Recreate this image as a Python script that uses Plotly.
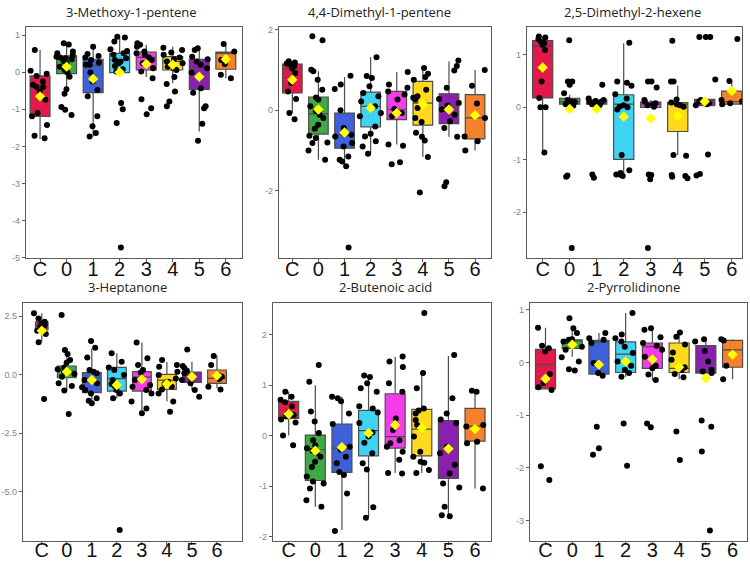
import plotly.graph_objects as go

GROUPS = ['C', '0', '1', '2', '3', '4', '5', '6']
COLORS = ['#E3194B', '#3DAA48', '#3E60D8', '#3ED3F2', '#F33CEA', '#FFD91C', '#8B1FAF', '#F5822B']
TITLES = ['3-Methoxy-1-pentene', '4,4-Dimethyl-1-pentene', '2,5-Dimethyl-2-hexene',
          '3-Heptanone', '2-Butenoic acid', '2-Pyrrolidinone']

# ---------------- Panel 1: 3-Methoxy-1-pentene ----------------
P1_Q1 = [-1.19, -0.04, -0.55, -0.01, 0.06, 0.06, -0.46, 0.08]
P1_MED = [-0.41, 0.40, 0.18, 0.33, 0.40, 0.29, 0.15, 0.51]
P1_Q3 = [-0.10, 0.44, 0.35, 0.51, 0.54, 0.42, 0.35, 0.54]
P1_LO = [-1.80, -0.57, -1.73, -0.01, -0.13, -0.30, -1.60, -0.16]
P1_HI = [0.60, 0.78, 0.69, 0.94, 0.74, 0.69, 0.62, 0.74]
P1_MEAN = [-0.65, 0.15, -0.18, 0.00, 0.22, 0.20, -0.12, 0.35]
P1_PTS = [
    [0.60, 0.04, -0.04, -0.10, -0.25, -0.34, -0.40, -0.40, -0.52, -0.74, -1.10, -1.19, -1.42, -1.71, -1.78],
    [0.78, 0.75, 0.56, 0.51, 0.47, 0.42, 0.40, 0.38, 0.35, 0.30, 0.24, 0.15, 0.06, -0.01, -0.12, -0.46, -0.58, -0.94, -1.01, -1.15],
    [0.69, 0.49, 0.44, 0.40, 0.33, 0.26, 0.20, 0.20, -0.01, -0.25, -0.48, -0.65, -1.19, -1.46, -1.64, -1.73],
    [0.96, 0.94, 0.83, 0.62, 0.57, 0.51, 0.47, 0.38, 0.33, 0.29, 0.24, 0.17, 0.08, 0.02, -0.83, -1.00, -1.37, -4.73],
    [0.78, 0.74, 0.69, 0.56, 0.51, 0.47, 0.40, 0.33, 0.24, 0.11, 0.02, -0.16, -0.73, -0.97, -1.13],
    [0.66, 0.60, 0.53, 0.47, 0.40, 0.35, 0.29, 0.24, 0.20, 0.15, 0.11, 0.06, -0.13, -0.32, -0.52, -0.79, -0.92],
    [0.65, 0.60, 0.42, 0.35, 0.29, 0.20, 0.11, -0.01, -0.43, -0.55, -0.92, -0.97, -1.39, -1.85],
    [0.76, 0.56, 0.33, 0.22, -0.07, -0.16],
]

# ---------------- Panel 2: 4,4-Dimethyl-1-pentene ----------------
P2_Q1 = [0.43, -0.59, -0.94, -0.41, -0.23, -0.37, -0.33, -0.71]
P2_MED = [1.04, -0.09, -0.61, 0.10, 0.02, 0.18, 0.10, -0.19]
P2_Q3 = [1.15, 0.33, -0.07, 0.45, 0.47, 0.72, 0.41, 0.39]
P2_LO = [-0.07, -1.23, -1.39, -1.08, -0.85, -1.16, -0.66, -1.00]
P2_HI = [1.22, 0.97, 0.83, 1.32, 0.95, 1.05, 1.22, 1.00]
P2_MEAN = [0.76, 0.02, -0.55, 0.06, -0.07, 0.15, 0.02, -0.12]
P2_PTS = [
    [1.22, 1.19, 1.16, 1.14, 1.10, 1.04, 0.93, 0.68, 0.47, 0.28, -0.07, -0.22],
    [1.84, 1.74, 1.01, 0.97, 0.76, 0.51, 0.32, 0.27, 0.10, -0.02, -0.11, -0.19, -0.36, -0.46, -0.63, -0.69, -0.80, -0.81, -1.00, -1.23],
    [0.86, 0.64, 0.53, 0.00, -0.44, -0.61, -0.65, -0.81, -0.90, -1.15, -1.23, -1.27, -1.39, -3.41],
    [1.32, 0.85, 0.80, 0.60, 0.43, 0.35, 0.22, 0.10, -0.07, -0.15, -0.40, -0.58, -0.65, -0.77, -0.90, -1.08],
    [0.95, 0.64, 0.56, 0.47, 0.39, 0.27, 0.03, -0.07, -0.15, -0.85, -0.88, -1.29, -1.34],
    [1.05, 0.91, 0.83, 0.76, 0.51, 0.35, 0.31, 0.27, 0.06, -0.19, -0.29, -0.56, -0.66, -0.75, -1.16, -2.04],
    [1.24, 1.10, 0.99, 0.56, 0.28, 0.18, 0.12, 0.02, -0.11, -0.27, -0.44, -0.66, -1.79, -1.89],
    [1.00, 0.61, 0.17, -0.19, -0.65, -0.77, -1.00],
]

# ---------------- Panel 3: 2,5-Dimethyl-2-hexene ----------------
P3_Q1 = [0.18, 0.06, 0.06, -0.99, 0.00, -0.46, 0.03, 0.06]
P3_MED = [1.17, 0.11, 0.11, 0.06, 0.06, 0.06, 0.09, 0.11]
P3_Q3 = [1.27, 0.17, 0.14, 0.24, 0.10, 0.09, 0.15, 0.31]
P3_LO = [-0.86, 0.03, 0.04, -1.26, 0.00, -0.91, 0.03, 0.06]
P3_HI = [1.35, 0.24, 0.17, 1.22, 0.14, 0.41, 0.15, 0.50]
P3_MEAN = [0.76, -0.03, -0.03, -0.18, -0.21, -0.17, 0.11, 0.31]
P3_PTS = [
    [1.35, 1.33, 1.30, 1.25, 1.22, 1.19, 1.09, 0.49, 0.18, 0.00, 0.00, -0.86],
    [1.28, 0.49, 0.49, 0.43, 0.27, 0.14, 0.11, 0.09, 0.06, 0.04, 0.03, 0.10, 0.08, -1.32, -1.30, -2.68],
    [0.43, 0.17, 0.14, 0.12, 0.11, 0.09, 0.08, 0.06, 0.04, 0.10, 0.07, -1.34, -1.28],
    [1.23, 0.49, 0.47, 0.41, 0.25, 0.17, 0.04, 0.01, 0.00, -0.04, -0.91, -1.20, -1.25, -1.29, -1.31, -1.28],
    [0.49, 0.49, 0.38, 0.14, 0.11, 0.08, 0.06, 0.04, 0.01, -1.29, -1.37, -1.28, -2.68],
    [1.27, 0.49, 0.49, 0.15, 0.09, 0.06, 0.04, 0.01, -0.91, -0.92, -1.29, -1.32, -1.35, -1.31],
    [1.34, 1.34, 1.34, 0.53, 0.14, 0.11, 0.09, 0.06, 0.04, 0.08, -0.90, -1.30, -1.27],
    [1.30, 0.50, 0.14, 0.11, 0.08, 0.06],
]

# ---------------- Panel 4: 3-Heptanone ----------------
P4_Q1 = [1.91, -0.13, -0.77, -0.70, -0.70, -0.63, -0.33, -0.37]
P4_MED = [2.09, 0.16, -0.13, -0.17, -0.09, -0.23, -0.09, -0.16]
P4_Q3 = [2.26, 0.37, 0.09, 0.31, 0.13, 0.01, 0.11, 0.20]
P4_LO = [1.41, -0.65, -1.29, -1.01, -1.62, -1.15, -0.65, -0.58]
P4_HI = [2.62, 0.84, 1.12, 0.91, 1.37, 0.55, 0.55, 0.80]
P4_MEAN = [1.88, 0.13, -0.23, -0.44, -0.20, -0.40, -0.09, -0.04]
P4_PTS = [
    [2.62, 2.40, 2.26, 2.19, 2.12, 2.05, 1.88, 1.74, 1.38, -1.04],
    [2.55, 1.05, 0.88, 0.63, 0.51, 0.31, 0.23, 0.13, 0.03, -0.09, -0.37, -0.48, -0.68, -1.68],
    [1.44, 1.15, 0.73, 0.20, 0.13, 0.06, -0.23, -0.37, -0.54, -0.65, -0.80, -1.01, -1.11, -1.22],
    [0.91, 0.55, 0.31, 0.20, -0.01, -0.23, -0.40, -0.48, -0.65, -0.80, -1.01, -6.63],
    [1.37, 0.70, 0.41, 0.20, 0.09, -0.23, -0.44, -0.51, -0.65, -0.80, -1.15, -1.44, -1.65],
    [0.63, 0.41, 0.34, 0.13, -0.01, -0.16, -0.30, -0.40, -0.51, -0.63, -0.80, -1.15, -1.58],
    [1.08, 0.37, 0.27, 0.17, 0.06, -0.09, -0.23, -0.37, -0.65, -0.94],
    [0.80, 0.41, -0.01, -0.09, -0.18, -0.51, -0.63],
]

# ---------------- Panel 5: 2-Butenoic acid ----------------
P5_Q1 = [0.34, -0.89, -0.73, -0.40, -0.25, -0.40, -0.85, -0.11]
P5_MED = [0.41, -0.28, -0.25, 0.10, -0.02, 0.13, -0.21, 0.19]
P5_Q3 = [0.68, 0.01, 0.23, 0.50, 0.83, 0.52, 0.30, 0.54]
P5_LO = [0.00, -1.41, -1.87, -1.62, -0.74, -0.74, -1.60, -1.05]
P5_HI = [0.87, 1.00, 0.77, 1.19, 1.56, 1.24, 1.58, 0.89]
P5_MEAN = [0.43, -0.30, -0.23, 0.05, 0.21, 0.15, -0.26, 0.13]
P5_PTS = [
    [0.87, 0.77, 0.71, 0.66, 0.58, 0.46, 0.41, 0.38, 0.32, 0.26, 0.00, -0.19],
    [1.40, 1.07, 0.48, 0.28, 0.05, -0.09, -0.19, -0.25, -0.30, -0.35, -0.42, -0.52, -0.62, -0.81, -0.91, -0.95, -1.05, -1.28, -1.41],
    [0.77, 0.74, 0.68, 0.44, 0.23, -0.22, -0.28, -0.42, -0.55, -0.72, -0.78, -1.15, -1.89],
    [1.19, 1.16, 1.04, 0.94, 0.87, 0.58, 0.54, 0.46, 0.25, 0.06, -0.02, -0.14, -0.35, -0.55, -0.67, -1.42, -1.63],
    [1.57, 1.47, 1.36, 1.04, 0.87, 0.34, 0.11, -0.09, -0.15, -0.22, -0.32, -0.48, -0.74, -0.75],
    [2.43, 1.24, 0.94, 0.54, 0.50, 0.44, 0.31, 0.21, -0.02, -0.32, -0.42, -0.52, -0.54, -0.68, -0.74],
    [1.60, 0.74, 0.44, 0.32, 0.25, -0.22, -0.35, -0.58, -0.75, -0.95, -1.03, -1.41, -1.58, -1.60],
    [0.89, 0.87, 0.21, 0.18, -0.12, -0.15, -1.05],
]

# ---------------- Panel 6: 2-Pyrrolidinone ----------------
P6_Q1 = [-0.50, 0.27, -0.22, -0.19, -0.11, -0.19, -0.20, -0.09]
P6_MED = [-0.04, 0.42, 0.39, 0.16, 0.30, -0.11, -0.14, 0.24]
P6_Q3 = [0.25, 0.43, 0.42, 0.39, 0.37, 0.37, 0.32, 0.42]
P6_LO = [-0.50, 0.11, -0.22, -0.27, -0.34, -0.32, -0.20, -0.32]
P6_HI = [0.66, 0.65, 0.56, 0.94, 0.65, 0.59, 0.46, 0.44]
P6_MEAN = [-0.31, 0.34, -0.04, 0.02, 0.06, -0.09, -0.30, 0.15]
P6_PTS = [
    [0.66, 0.32, 0.27, 0.21, -0.22, -0.39, -0.47, -0.52, -1.97, -2.23],
    [0.84, 0.65, 0.56, 0.44, 0.43, 0.40, 0.37, 0.30, 0.24, 0.10, 0.02, -0.13, -0.15],
    [0.56, 0.46, 0.43, 0.37, -0.01, -0.20, -0.25, -1.22, -1.63, -1.75],
    [0.94, 0.53, 0.46, 0.40, 0.30, 0.18, 0.02, -0.06, -0.14, -0.20, -0.27, -1.16, -1.96],
    [0.65, 0.62, 0.48, 0.37, 0.32, 0.24, 0.11, -0.06, -0.11, -0.33, -0.23, -1.16, -1.23],
    [0.57, 0.49, 0.34, 0.19, 0.05, -0.09, -0.14, -0.22, -0.28, -1.31, -1.85],
    [0.44, 0.40, 0.22, 0.02, -0.14, -0.17, -0.20, -1.10, -1.22, -1.69, -3.19],
    [0.44, 0.42, -0.06, -0.32],
]

Y_TICKVALS = [[1, 0, -1, -2, -3, -4, -5], [2, 0, -2], [1, 0, -1, -2],
              [2.5, 0, -2.5, -5], [2, 1, 0, -1, -2], [1, 0, -1, -2, -3]]
Y_TICKTEXT = [['1', '0', '-1', '-2', '-3', '-4', '-5'], ['2', '0', '-2'], ['1', '0', '-1', '-2'],
              ['2.5', '0.0', '-2.5', '-5.0'], ['2', '1', '0', '-1', '-2'], ['1', '0', '-1', '-2', '-3']]

PANELS = [
    (P1_Q1, P1_MED, P1_Q3, P1_LO, P1_HI, P1_MEAN, P1_PTS),
    (P2_Q1, P2_MED, P2_Q3, P2_LO, P2_HI, P2_MEAN, P2_PTS),
    (P3_Q1, P3_MED, P3_Q3, P3_LO, P3_HI, P3_MEAN, P3_PTS),
    (P4_Q1, P4_MED, P4_Q3, P4_LO, P4_HI, P4_MEAN, P4_PTS),
    (P5_Q1, P5_MED, P5_Q3, P5_LO, P5_HI, P5_MEAN, P5_PTS),
    (P6_Q1, P6_MED, P6_Q3, P6_LO, P6_HI, P6_MEAN, P6_PTS),
]

# layout geometry (pixels in a 750x561 page)
W, H = 750, 561
PX_X = [(26, 242), (279, 491), (527, 742), (23, 242), (273, 491), (530, 747)]
PX_Y = [(27, 258), (27, 258), (27, 258), (303, 541), (303, 541), (303, 541)]
X_RANGES = [[-0.53, 7.61], [-0.51, 7.61], [-0.58, 7.38], [-0.75, 8.0], [-0.59, 7.6], [-0.58, 7.54]]
Y_RANGES = [[-5.01, 1.22], [-3.67, 2.07], [-2.87, 1.53], [-7.1, 3.06], [-2.09, 2.63], [-3.39, 1.13]]
C_WIDTH = [0.75, 0.75, 0.75, 0.5, 0.75, 0.75]
TITLE_X = [131, 379, 632, 127, 385, 633]
TITLE_Y = [12, 12, 12, 287, 287, 287]
X_LABEL_SHIFT = [-10, -10, -10, -12, -12, -12]

fig = go.Figure()
layout = dict(
    width=W, height=H, margin=dict(l=0, r=0, t=0, b=0, autoexpand=False),
    paper_bgcolor='white', plot_bgcolor='white', showlegend=False,
    boxmode='overlay', annotations=[],
)

for i, (q1, med, q3, lo, hi, mean, pts) in enumerate(PANELS):
    k = '' if i == 0 else str(i + 1)
    xa, ya = 'x' + k, 'y' + k
    for g in range(len(GROUPS)):
        fig.add_trace(go.Box(
            x=[GROUPS[g]], q1=[q1[g]], median=[med[g]], q3=[q3[g]],
            lowerfence=[lo[g]], upperfence=[hi[g]],
            fillcolor=COLORS[g], line=dict(color='#4d4d4d', width=1.2),
            width=C_WIDTH[i] if g == 0 else 0.75, whiskerwidth=0,
            boxpoints=False, xaxis=xa, yaxis=ya, hoverinfo='skip'))
    xs, ys = [], []
    for g, vals in enumerate(pts):
        xs += [GROUPS[g]] * len(vals)
        ys += vals
    fig.add_trace(go.Box(
        x=xs, y=ys, boxpoints='all', jitter=1, pointpos=0, width=0.85,
        fillcolor='rgba(0,0,0,0)', line=dict(color='rgba(0,0,0,0)', width=0),
        marker=dict(color='black', size=6), xaxis=xa, yaxis=ya, hoverinfo='skip'))
    fig.add_trace(go.Scatter(
        x=GROUPS, y=mean, mode='markers',
        marker=dict(symbol='diamond', color='#FFFF00', size=8),
        xaxis=xa, yaxis=ya, hoverinfo='skip'))

    x0, x1 = PX_X[i]
    y0, y1 = PX_Y[i]
    layout['xaxis' + k] = dict(
        domain=[x0 / W, x1 / W], anchor=ya, type='category', automargin=False,
        categoryorder='array', categoryarray=GROUPS, range=X_RANGES[i],
        showline=True, mirror=True, linecolor='#5a5a5a', linewidth=1.3,
        ticks='outside', ticklen=3, tickcolor='#5a5a5a', showgrid=False, zeroline=False,
        ticklabelstandoff=X_LABEL_SHIFT[i],
        tickfont=dict(family='Liberation Sans, Arial', size=20, color='#111111'))
    layout['yaxis' + k] = dict(
        domain=[1 - y1 / H, 1 - y0 / H], anchor=xa, range=Y_RANGES[i], automargin=False,
        tickvals=Y_TICKVALS[i], ticktext=Y_TICKTEXT[i],
        showline=True, mirror=True, linecolor='#5a5a5a', linewidth=1.3,
        ticks='outside', ticklen=3, tickcolor='#5a5a5a', showgrid=False, zeroline=False,
        tickfont=dict(family='Liberation Sans, Arial', size=9, color='#7d8594'))
    layout['annotations'].append(dict(
        text=TITLES[i], x=TITLE_X[i] / W, y=1 - TITLE_Y[i] / H, xref='paper', yref='paper',
        xanchor='center', yanchor='middle', showarrow=False,
        font=dict(family='Open Sans, Liberation Sans', size=13, color='#222222')))

fig.update_layout(**layout)
fig.write_html('out.html')
